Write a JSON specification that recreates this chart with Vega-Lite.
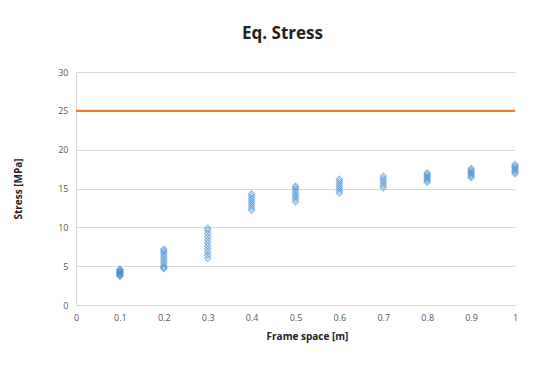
{
  "$schema": "https://vega.github.io/schema/vega-lite/v6.json",
  "width": 439,
  "height": 233,
  "autosize": "none",
  "padding": {"left": 76, "top": 72, "right": 25, "bottom": 60},
  "background": "white",
  "title": {"text": "Eq. Stress", "font": "Open Sans", "fontSize": 17, "fontWeight": "bold", "color": "#222222", "anchor": "middle", "dx": -13, "offset": 25},
  "config": {"view": {"stroke": null}},
  "datasets": {
    "pts": [
      {"frame":0.1,"stress":3.7},{"frame":0.1,"stress":3.8},{"frame":0.1,"stress":3.9},{"frame":0.1,"stress":4.0},{"frame":0.1,"stress":4.1},{"frame":0.1,"stress":4.2},{"frame":0.1,"stress":4.3},{"frame":0.1,"stress":4.4},{"frame":0.1,"stress":4.5},{"frame":0.1,"stress":4.6},
      {"frame":0.2,"stress":4.7},{"frame":0.2,"stress":4.8},{"frame":0.2,"stress":5.0},{"frame":0.2,"stress":5.3},{"frame":0.2,"stress":5.6},{"frame":0.2,"stress":5.9},{"frame":0.2,"stress":6.2},{"frame":0.2,"stress":6.5},{"frame":0.2,"stress":6.8},{"frame":0.2,"stress":7.0},{"frame":0.2,"stress":7.2},
      {"frame":0.3,"stress":6.0},{"frame":0.3,"stress":6.4},{"frame":0.3,"stress":6.8},{"frame":0.3,"stress":7.2},{"frame":0.3,"stress":7.6},{"frame":0.3,"stress":8.0},{"frame":0.3,"stress":8.4},{"frame":0.3,"stress":8.8},{"frame":0.3,"stress":9.2},{"frame":0.3,"stress":9.6},{"frame":0.3,"stress":9.9},
      {"frame":0.4,"stress":12.2},{"frame":0.4,"stress":12.5},{"frame":0.4,"stress":12.8},{"frame":0.4,"stress":13.1},{"frame":0.4,"stress":13.4},{"frame":0.4,"stress":13.7},{"frame":0.4,"stress":14.0},{"frame":0.4,"stress":14.3},
      {"frame":0.5,"stress":13.3},{"frame":0.5,"stress":13.6},{"frame":0.5,"stress":13.9},{"frame":0.5,"stress":14.2},{"frame":0.5,"stress":14.5},{"frame":0.5,"stress":14.8},{"frame":0.5,"stress":15.1},{"frame":0.5,"stress":15.3},
      {"frame":0.6,"stress":14.4},{"frame":0.6,"stress":14.7},{"frame":0.6,"stress":15.0},{"frame":0.6,"stress":15.3},{"frame":0.6,"stress":15.6},{"frame":0.6,"stress":15.9},{"frame":0.6,"stress":16.2},
      {"frame":0.7,"stress":15.1},{"frame":0.7,"stress":15.4},{"frame":0.7,"stress":15.7},{"frame":0.7,"stress":16.0},{"frame":0.7,"stress":16.3},{"frame":0.7,"stress":16.6},
      {"frame":0.8,"stress":15.8},{"frame":0.8,"stress":16.0},{"frame":0.8,"stress":16.2},{"frame":0.8,"stress":16.4},{"frame":0.8,"stress":16.6},{"frame":0.8,"stress":16.8},{"frame":0.8,"stress":17.0},
      {"frame":0.9,"stress":16.4},{"frame":0.9,"stress":16.6},{"frame":0.9,"stress":16.8},{"frame":0.9,"stress":17.0},{"frame":0.9,"stress":17.2},{"frame":0.9,"stress":17.4},{"frame":0.9,"stress":17.6},
      {"frame":1.0,"stress":16.9},{"frame":1.0,"stress":17.1},{"frame":1.0,"stress":17.3},{"frame":1.0,"stress":17.5},{"frame":1.0,"stress":17.7},{"frame":1.0,"stress":17.9},{"frame":1.0,"stress":18.1}
    ],
    "limit": [{"frame": 0, "stress": 25}, {"frame": 1, "stress": 25}]
  },
  "encoding": {
    "x": {
      "field": "frame", "type": "quantitative",
      "scale": {"domain": [0, 1], "nice": false, "zero": true},
      "axis": {
        "title": "Frame space [m]", "values": [0,0.1,0.2,0.3,0.4,0.5,0.6,0.7,0.8,0.9,1], "format": "~g",
        "grid": false, "ticks": false, "domainColor": "#d9d9d9", "domainWidth": 1,
        "labelFont": "Open Sans", "labelFontSize": 9, "labelColor": "#595959", "labelPadding": 8, "labelOverlap": false, "labelBound": false, "labelFlush": false,
        "titleFont": "Open Sans", "titleFontSize": 10, "titleFontWeight": "bold", "titleColor": "#222222", "titlePadding": 9, "titleX": 231
      }
    },
    "y": {
      "field": "stress", "type": "quantitative",
      "scale": {"domain": [0, 30], "nice": false},
      "axis": {
        "title": "Stress [MPa]", "values": [0,5,10,15,20,25,30],
        "grid": true, "gridColor": "#d9d9d9", "ticks": false, "domainColor": "#d9d9d9",
        "labelFont": "Open Sans", "labelFontSize": 9, "labelColor": "#595959", "labelPadding": 8, "labelOverlap": false, "labelBound": false, "labelFlush": false,
        "titleFont": "Open Sans", "titleFontSize": 10, "titleFontWeight": "bold", "titleColor": "#222222", "titlePadding": 34
      }
    }
  },
  "layer": [
    {
      "data": {"name": "limit"},
      "mark": {"type": "line", "color": "#ed7d31", "strokeWidth": 2.2}
    },
    {
      "data": {"name": "pts"},
      "mark": {"type": "point", "shape": "diamond", "filled": false, "stroke": "#3d8ad0", "strokeWidth": 1.2, "opacity": 0.55, "size": 38}
    }
  ]
}
